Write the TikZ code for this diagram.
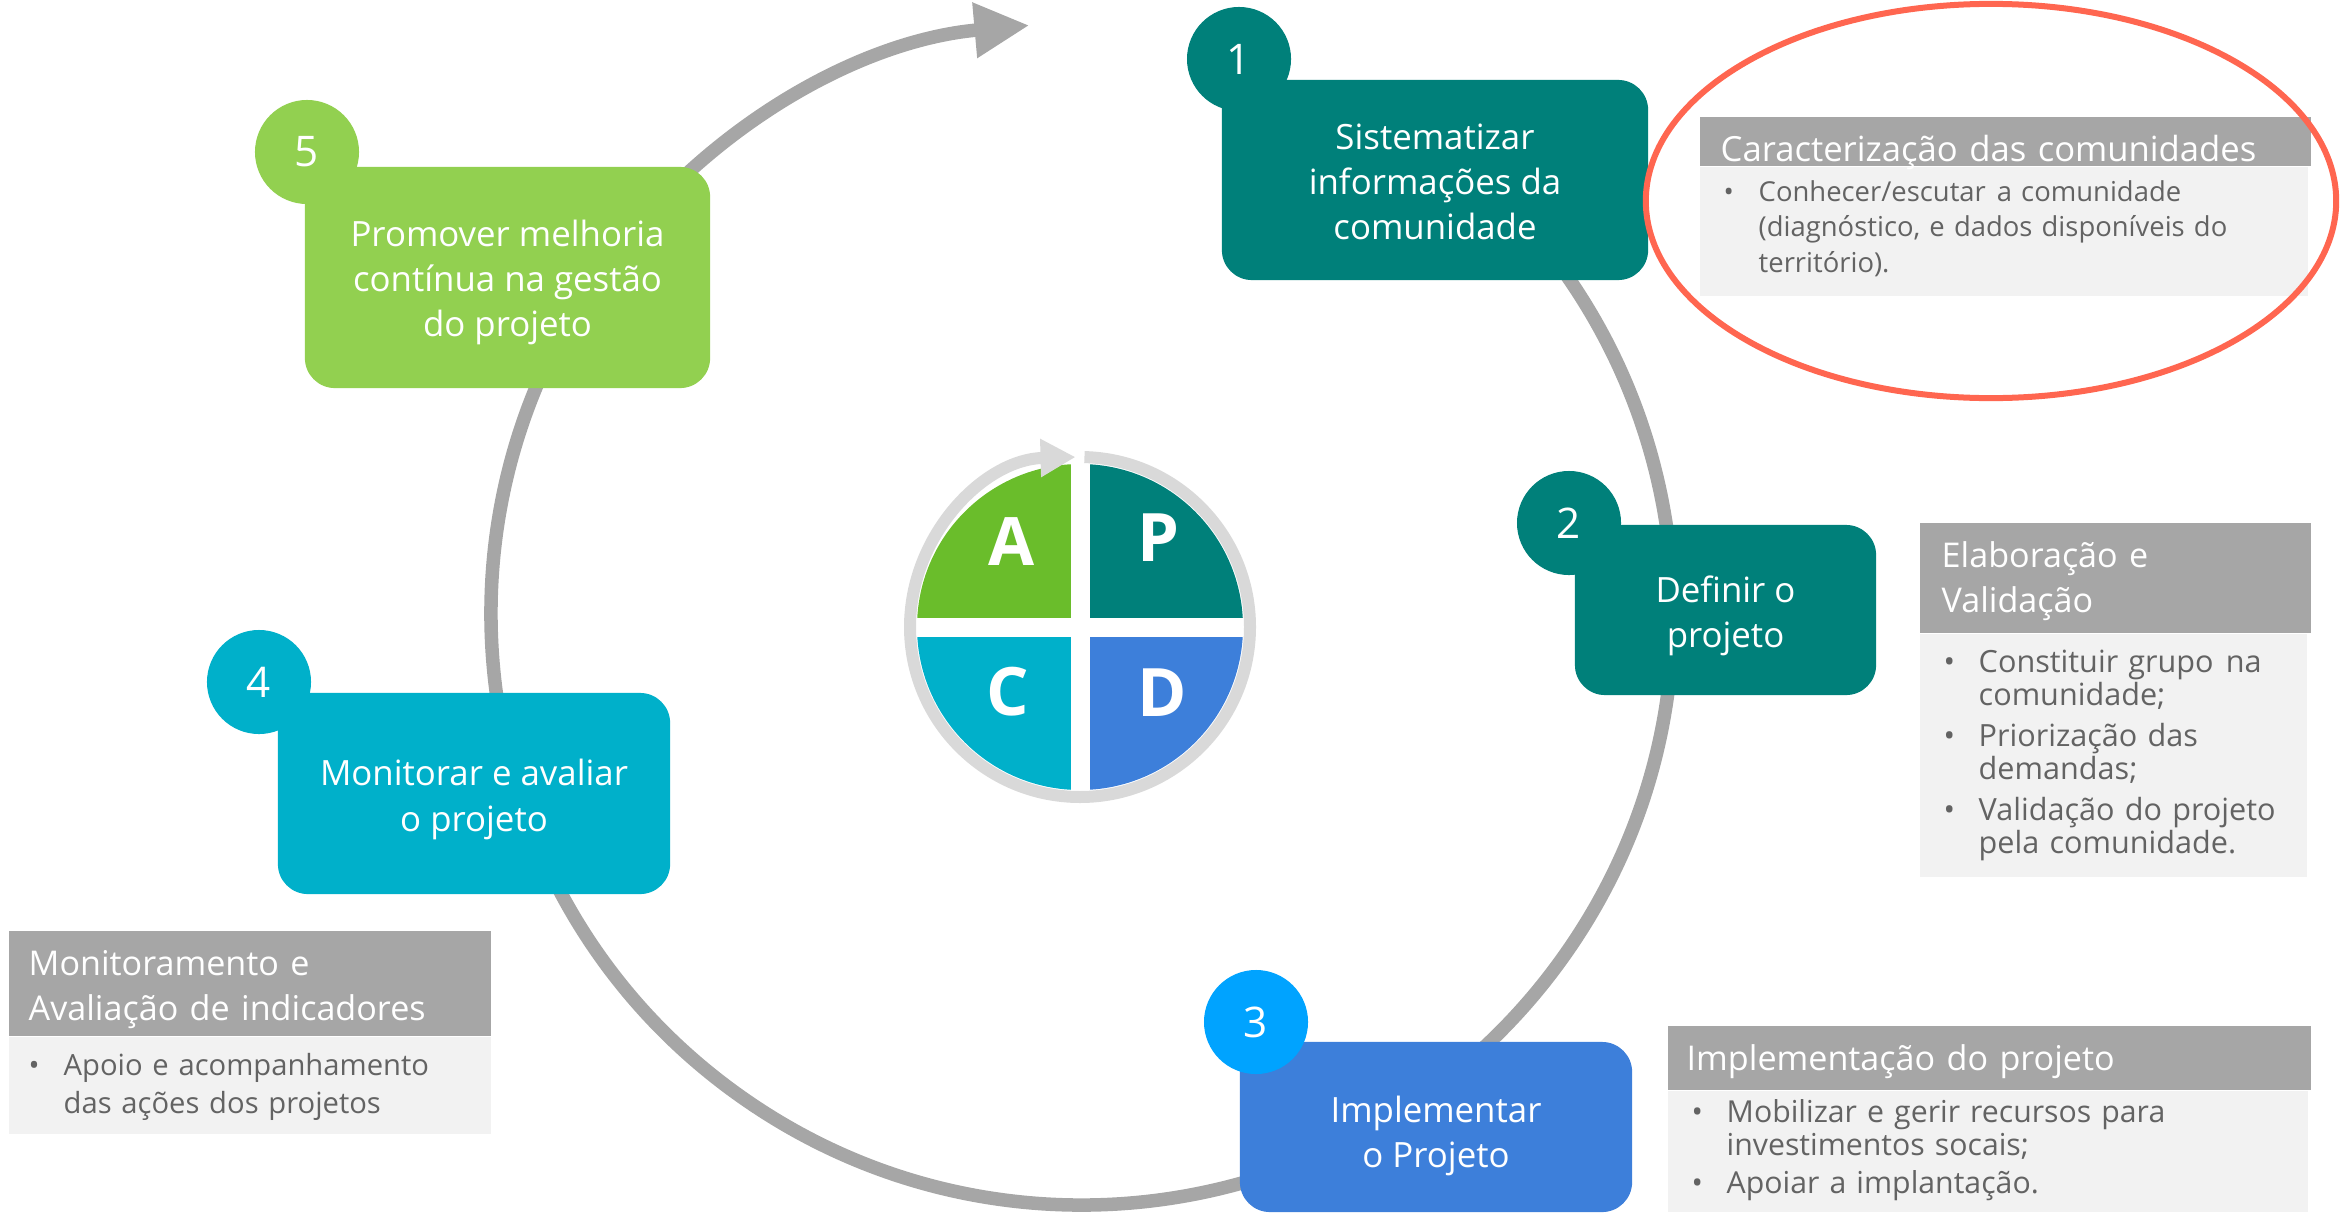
\documentclass[tikz,border=0pt]{standalone}
\usepackage{fontspec}
\setmainfont{Open Sans}
\usetikzlibrary{arrows.meta}

\definecolor{petroleo}{HTML}{00807A}
\definecolor{azulD}{HTML}{3D7FDA}
\definecolor{azulnum}{HTML}{00A3FF}
\definecolor{ciano}{HTML}{00B0CA}
\definecolor{verdeclaro}{HTML}{92D050}
\definecolor{verdeA}{HTML}{6ABD2B}
\definecolor{cinzaarco}{HTML}{A6A6A6}
\definecolor{cinzaanel}{HTML}{D9D9D9}
\definecolor{cinzafundo}{HTML}{F2F2F2}
\definecolor{cinzatexto}{HTML}{636363}
\definecolor{realce}{HTML}{FF6650}

\tikzstyle{etapa} = [rounded corners=0.3cm, inner sep=0pt, text=white, align=center,
    font=\fontsize{9.9}{12.8}\selectfont]
\tikzstyle{numero} = [circle, minimum size=1.04cm, inner sep=0pt, text=white,
    font=\fontsize{12}{14}\selectfont]
\tikzstyle{cabeca} = [fill=cinzaarco, inner sep=0pt, anchor=north west]
\tikzstyle{corpo} = [fill=cinzafundo, inner sep=0pt, anchor=north west]
\tikzstyle{titulo} = [anchor=base west, inner sep=0pt, text=white, text width=6cm,
    align=left, font=\fontsize{9.7}{12.8}\selectfont]
\tikzstyle{itens} = [anchor=base west, inner sep=0pt, text=cinzatexto, text width=6cm,
    align=left]
\tikzstyle{letra} = [inner sep=0pt, text=white, font=\fontsize{19}{22}\selectfont\bfseries]
\tikzstyle{ciclo} = [draw=cinzaarco, line width=0.135cm,
    -{Triangle[length=0.55cm, width=0.52cm]}]
\tikzstyle{anel} = [draw=cinzaanel, line width=0.12cm,
    -{Triangle[length=0.35cm, width=0.36cm]}]

\newcommand{\marca}{\leavevmode\llap{\makebox[10pt][l]{\textbullet}}}
\newcommand{\sobe}[1]{\rule{0pt}{#1}}
\newcommand{\espaco}{\hspace{0.4em}}

\begin{document}
\begin{tikzpicture}[x=0.01cm, y=-0.01cm]
\useasboundingbox (0,0) rectangle (2343,1215);

\coordinate (centro) at (1082,614);
\draw[ciclo] (centro) ++(-55:591) arc (-55:264.9:591);

\node[etapa, fill=petroleo, minimum width=4.26cm, minimum height=2cm] (etapa1)
    at (1435,180) {\sobe{8.2pt}Sistematizar\\informações da\\comunidade};
\node[etapa, fill=petroleo, minimum width=3.01cm, minimum height=1.7cm] (etapa2)
    at (1725.5,610) {\sobe{10.9pt}Definir o\\projeto};
\node[etapa, fill=azulD, minimum width=3.92cm, minimum height=1.7cm] (etapa3)
    at (1436,1127) {\sobe{12.7pt}Implementar\\o Projeto};
\node[etapa, fill=ciano, minimum width=3.92cm, minimum height=2.01cm] (etapa4)
    at (474,793.5) {\sobe{10.9pt}Monitorar e avaliar\\o projeto};
\node[etapa, fill=verdeclaro, minimum width=4.05cm, minimum height=2.21cm] (etapa5)
    at (507.5,277.5) {\sobe{10.1pt}Promover melhoria\\contínua na gestão\\do projeto};

\node[numero, fill=petroleo] (num1) at (1239,59) {1};
\node[numero, fill=petroleo] (num2) at (1569,523) {2};
\node[numero, fill=azulnum] (num3) at (1256,1022) {3};
\node[numero, fill=ciano] (num4) at (259,682) {4};
\node[numero, fill=verdeclaro] (num5) at (307,152) {5};

\coordinate (pdca) at (1080,627);
\fill[petroleo] (pdca) -- ++(-90:163) arc (-90:0:163) -- cycle;
\fill[azulD] (pdca) -- ++(0:163) arc (0:90:163) -- cycle;
\fill[ciano] (pdca) -- ++(90:163) arc (90:180:163) -- cycle;
\fill[verdeA] (pdca) -- ++(180:163) arc (180:270:163) -- cycle;
\draw[white, line width=0.19cm] (pdca) ++(0,-165) -- ++(0,330);
\draw[white, line width=0.19cm] (pdca) ++(-165,0) -- ++(330,0);
\draw[anel] (pdca) ++(-88.5:170) arc (-88.5:268.5:170);
\node[letra] (letraA) at (1012,542) {A};
\node[letra] (letraP) at (1158,538) {P};
\node[letra] (letraC) at (1008,692) {C};
\node[letra] (letraD) at (1162,693) {D};

\node[cabeca, minimum width=6.11cm, minimum height=0.49cm] (cab1) at (1699,116) {};
\node[corpo, minimum width=6.08cm, minimum height=1.29cm] (corpo1) at (cab1.south west) {};
\node[titulo, font=\fontsize{9.85}{12.8}\selectfont] (tcab1) at (1720,161)
    {Caracterização das comunidades};
\node[itens, font=\fontsize{7.8}{10.2}\selectfont] (itens1) at (1758,201)
    {\marca Conhecer/escutar\espaco a comunidade\\(diagnóstico, e dados disponíveis do\\território).};

\node[cabeca, minimum width=3.91cm, minimum height=1.1cm] (cab2) at (1919,522) {};
\node[corpo, minimum width=3.87cm, minimum height=2.43cm] (corpo2) at (cab2.south west) {};
\node[titulo] (tcab2) at (1941,567) {Elaboração e\\Validação};
\node[itens, font=\fontsize{8.7}{9.4}\selectfont] (itens2) at (1978,672)
    {\marca Constituir grupo\espaco na\\comunidade;\\[2.3pt]\marca Priorização das\\demandas;\\[2.3pt]%
     \marca Validação do projeto\\pela comunidade.};

\node[cabeca, minimum width=6.43cm, minimum height=0.64cm] (cab3) at (1667,1025) {};
\node[corpo, minimum width=6.4cm, minimum height=1.21cm] (corpo3) at (cab3.south west) {};
\node[titulo] (tcab3) at (1686,1070) {Implementação do projeto};
\node[itens, font=\fontsize{8.6}{9.5}\selectfont] (itens3) at (1726,1122)
    {\marca Mobilizar e gerir recursos para\\investimentos socais;\\[1.2pt]\marca Apoiar a implantação.};

\node[cabeca, minimum width=4.82cm, minimum height=1.05cm] (cab4) at (8,930) {};
\node[corpo, minimum width=4.82cm, minimum height=0.97cm] (corpo4) at (cab4.south west) {};
\node[titulo] (tcab4) at (28,975) {Monitoramento e\\Avaliação de indicadores};
\node[itens, font=\fontsize{8.3}{10.8}\selectfont] (itens4) at (63,1075)
    {\marca Apoio e acompanhamento\\das ações dos projetos};

\draw[realce, line width=0.06cm] (1991,201) ellipse [x radius=3.45cm, y radius=1.97cm];
\end{tikzpicture}
\end{document}
